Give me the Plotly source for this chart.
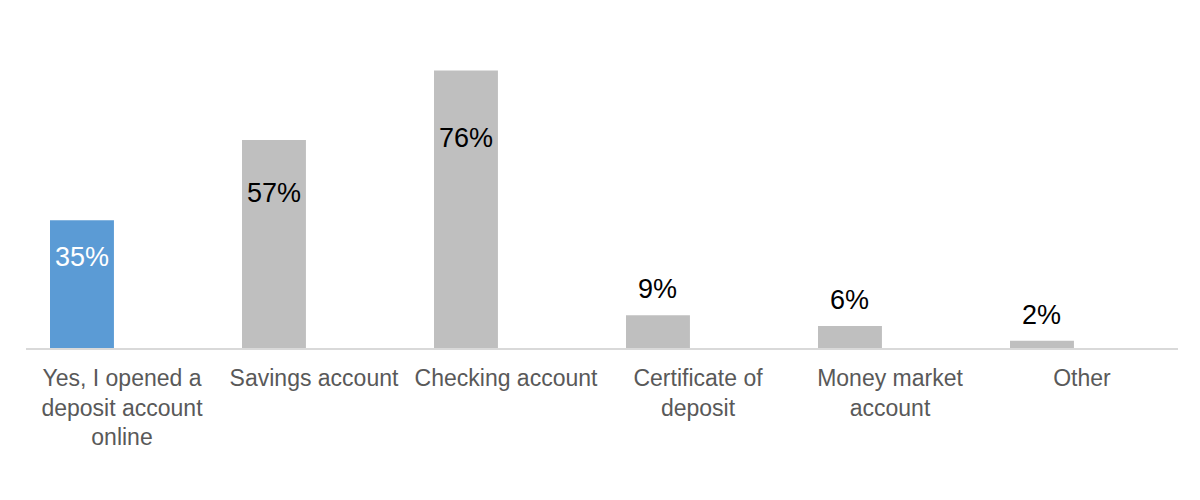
import plotly.graph_objects as go

categories = ["Yes, I opened a<br>deposit account<br>online", "Savings account",
              "Checking account", "Certificate of<br>deposit",
              "Money market<br>account", "Other"]
values = [35, 57, 76, 9, 6, 2]
bar_colors = ["#5B9BD5", "#BFBFBF", "#BFBFBF", "#BFBFBF", "#BFBFBF", "#BFBFBF"]
label_colors = ["white", "black", "black", "black", "black", "black"]

bar_offset = -0.375
bar_width = 0.333

fig = go.Figure()
fig.add_trace(go.Bar(x=categories, y=values, marker_color=bar_colors,
                     marker_line_width=0, offset=bar_offset, width=bar_width,
                     hoverinfo="skip", showlegend=False))

# value labels: big bars get the label inside, small ones above
for i, v in enumerate(values):
    xc = i + bar_offset + bar_width / 2
    if v > 20:
        fig.add_annotation(x=xc, y=v * 0.79 - 2.6, text=f"{v}%", showarrow=False,
                           yanchor="middle",
                           font=dict(size=27, color=label_colors[i]))
    else:
        fig.add_annotation(x=xc, y=v, text=f"{v}%", showarrow=False,
                           yanchor="middle", yshift=26,
                           font=dict(size=27, color=label_colors[i]))

# page has an 8px body margin, so margins are shifted to compensate
fig.update_layout(
    width=1200, height=500,
    margin=dict(l=18, r=30, t=48, b=160, autoexpand=False),
    plot_bgcolor="white", paper_bgcolor="white",
    font=dict(family="Liberation Sans, Arial, sans-serif"),
    xaxis=dict(showline=True, linecolor="#D9D9D9", linewidth=2,
               showgrid=False, ticks="", fixedrange=True,
               ticklabelstandoff=8,
               tickfont=dict(size=23, color="#595959")),
    yaxis=dict(range=[0, 80], visible=False, fixedrange=True),
)

fig.write_html("out.html")
